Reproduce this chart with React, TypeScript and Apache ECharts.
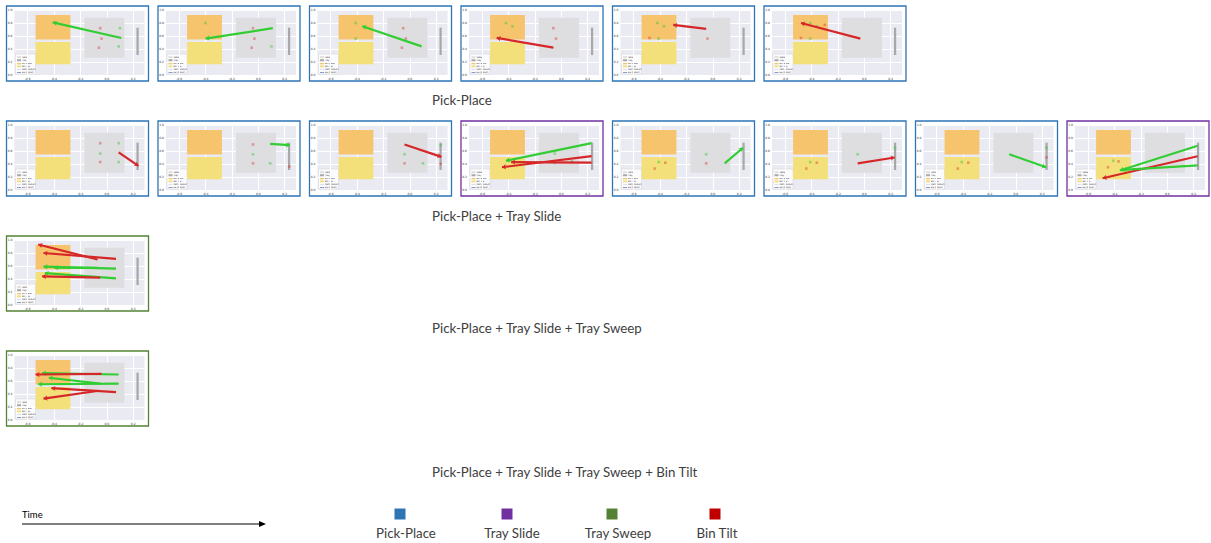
import React, { useEffect, useRef } from "react";
import * as echarts from "echarts";

const W = 1211;
const H = 543;

// axes
const xTicks = [-0.6, -0.4, -0.2, 0, 0.2];
const xRange = [-0.7, 0.286];
const yRange = [0, 1];
const yStep = 0.2;

// workspace zones (data coords)
const zoneNames = ["Bin Base", "Bin Top", "Table", "Tray"];
const zoneX = [[-0.54, -0.276], [-0.54, -0.276], [-0.17, 0.134], [0.225, 0.242]];
const zoneY = [[0.545, 0.922], [0.165, 0.508], [0.267, 0.882], [0.308, 0.728]];

const rowTitles = [
  "Pick-Place",
  "Pick-Place + Tray Slide",
  "Pick-Place + Tray Slide + Tray Sweep",
  "Pick-Place + Tray Slide + Tray Sweep + Bin Tilt",
];
const primitiveNames = ["Pick-Place", "Tray Slide", "Tray Sweep", "Bin Tilt"];
const panelLegendNames = ["Table", "Tray", "Bin Base", "Bin Top", "Path (Robot)", "EE (Robot)"];

// panels: red points, green points, arrows [tailX, tailY, headX, headY, colour]
const r1p1 = { red: [[-0.05, 0.72], [-0.04, 0.56], [-0.06, 0.42]], green: [[0.10, 0.72], [0.09, 0.44]], arrows: [[0.11, 0.57, -0.41, 0.81, "g"]] };
const r1p2 = { red: [[-0.04, 0.72], [-0.03, 0.56], [-0.05, 0.42]], green: [[-0.40, 0.80], [0.10, 0.44]], arrows: [[0.11, 0.72, -0.40, 0.56, "g"]] };
const r1p3 = { red: [[-0.05, 0.72], [-0.03, 0.56], [-0.06, 0.42]], green: [[-0.41, 0.80], [-0.41, 0.56]], arrows: [[0.09, 0.44, -0.36, 0.75, "g"]] };
const r1p4 = { red: [[-0.06, 0.72], [-0.04, 0.56]], green: [[-0.42, 0.80], [-0.37, 0.75]], arrows: [[-0.06, 0.42, -0.49, 0.57, "r"]] };
const r1p5 = { red: [[-0.48, 0.57], [-0.04, 0.56]], green: [[-0.42, 0.80], [-0.37, 0.75], [-0.41, 0.56]], arrows: [[-0.05, 0.71, -0.30, 0.77, "r"]] };
const r1p6 = { red: [[-0.48, 0.57], [-0.30, 0.77]], green: [[-0.41, 0.80], [-0.36, 0.75], [-0.41, 0.56]], arrows: [[-0.03, 0.56, -0.48, 0.80, "r"]] };

const r2p1 = { red: [[-0.05, 0.72], [-0.05, 0.43]], green: [[0.09, 0.72], [-0.05, 0.56], [0.09, 0.43]], arrows: [[0.09, 0.58, 0.24, 0.37, "r"]] };
const r2p2 = { red: [[-0.04, 0.70], [-0.04, 0.41], [0.235, 0.36]], green: [[-0.04, 0.55], [0.09, 0.41]], arrows: [[0.09, 0.71, 0.24, 0.69, "g"]] };
const r2p3 = { red: [[-0.04, 0.41], [0.235, 0.40]], green: [[-0.04, 0.55], [0.10, 0.41], [0.235, 0.69]], arrows: [[-0.04, 0.70, 0.24, 0.51, "r"]] };
const r2p4 = { red: [[-0.05, 0.42], [0.08, 0.43]], green: [[-0.05, 0.56], [0.08, 0.44]], arrows: [[0.23, 0.72, -0.42, 0.45, "g"], [0.23, 0.52, -0.45, 0.35, "r"], [0.23, 0.42, -0.38, 0.43, "r"]] };
const r2p5 = { red: [[-0.36, 0.42], [-0.44, 0.33], [-0.05, 0.41]], green: [[-0.05, 0.55], [-0.41, 0.43]], arrows: [[0.09, 0.41, 0.23, 0.65, "g"]] };
const r2p6 = { red: [[-0.36, 0.42], [-0.44, 0.33]], green: [[-0.05, 0.55], [-0.41, 0.43], [0.233, 0.65]], arrows: [[-0.05, 0.41, 0.23, 0.50, "r"]] };
const r2p7 = { red: [[-0.36, 0.42], [-0.44, 0.33], [0.233, 0.50]], green: [[-0.41, 0.43], [0.233, 0.65]], arrows: [[-0.05, 0.55, 0.23, 0.35, "g"]] };
const r2p8 = { red: [[-0.45, 0.35], [-0.37, 0.44]], green: [[-0.41, 0.45]], arrows: [[0.23, 0.52, -0.49, 0.18, "r"], [0.23, 0.68, -0.36, 0.30, "g"], [0.23, 0.38, -0.34, 0.31, "g"]] };

const r3p1 = {
  red: [], green: [],
  arrows: [
    [-0.07, 0.70, -0.52, 0.93, "r"],
    [0.07, 0.71, -0.48, 0.80, "r"],
    [0.07, 0.56, -0.48, 0.59, "g"],
    [-0.07, 0.57, -0.40, 0.575, "g"],
    [0.07, 0.41, -0.47, 0.49, "g"],
    [-0.05, 0.42, -0.49, 0.44, "r"],
  ],
};
const r4p1 = {
  red: [], green: [],
  arrows: [
    [0.09, 0.70, -0.49, 0.72, "g"],
    [-0.04, 0.71, -0.54, 0.70, "r"],
    [-0.05, 0.56, -0.44, 0.65, "g"],
    [0.09, 0.56, -0.52, 0.55, "g"],
    [0.07, 0.43, -0.42, 0.49, "r"],
    [-0.06, 0.45, -0.48, 0.33, "r"],
  ],
};

// which primitive each panel ends with: 0 pick-place, 1 tray slide, 2 tray sweep
const layout = [
  { p: r1p1, row: 0, col: 0, kind: 0 },
  { p: r1p2, row: 0, col: 1, kind: 0 },
  { p: r1p3, row: 0, col: 2, kind: 0 },
  { p: r1p4, row: 0, col: 3, kind: 0 },
  { p: r1p5, row: 0, col: 4, kind: 0 },
  { p: r1p6, row: 0, col: 5, kind: 0 },
  { p: r2p1, row: 1, col: 0, kind: 0 },
  { p: r2p2, row: 1, col: 1, kind: 0 },
  { p: r2p3, row: 1, col: 2, kind: 0 },
  { p: r2p4, row: 1, col: 3, kind: 1 },
  { p: r2p5, row: 1, col: 4, kind: 0 },
  { p: r2p6, row: 1, col: 5, kind: 0 },
  { p: r2p7, row: 1, col: 6, kind: 0 },
  { p: r2p8, row: 1, col: 7, kind: 1 },
  { p: r3p1, row: 2, col: 0, kind: 2 },
  { p: r4p1, row: 3, col: 0, kind: 2 },
];

const primColors = ["#2E75B6", "#7030A0", "#548235", "#C00000"];
const zoneColors = ["#F6C46D", "#F3E07A", "#DEDEE0", "#A8A8A8"];
const RED = "#D62728";
const GREEN = "#32CD32";

const rowTop = [6, 121, 236, 351];
const titleY = [100, 216, 328, 472];
const colLeft = (c: number) => 6.5 + 151.5 * c;
const PW = 142;
const PH = 75;

function buildOption() {
  const grids: any[] = [];
  const xAxes: any[] = [];
  const yAxes: any[] = [];
  const series: any[] = [];
  const graphics: any[] = [];
  const font = "Lato, 'Open Sans', sans-serif";

  layout.forEach((it, i) => {
    const L = colLeft(it.col);
    const T = rowTop[it.row];
    grids.push({
      left: L + 8, top: T + 4, width: 130, height: 65,
      show: true, backgroundColor: "#EAEAF2", borderWidth: 0,
      containLabel: false, outerBoundsMode: "none",
    });
    xAxes.push({
      type: "value", gridIndex: i, min: xRange[0], max: xRange[1],
      axisLine: { show: false },
      axisTick: { show: false, customValues: xTicks },
      axisLabel: {
        customValues: xTicks, fontSize: 3, color: "#333", margin: 2,
        hideOverlap: false, fontFamily: "DejaVu Sans",
        formatter: (v: number) => v.toFixed(1),
      },
      splitLine: { show: true, lineStyle: { color: "#FFFFFF", width: 1 } },
    });
    yAxes.push({
      type: "value", gridIndex: i, min: yRange[0], max: yRange[1], interval: yStep,
      axisLine: { show: false },
      axisTick: { show: false },
      axisLabel: {
        fontSize: 3, color: "#333", margin: 2, hideOverlap: false, fontFamily: "DejaVu Sans",
        formatter: (v: number) => v.toFixed(1),
      },
      splitLine: { show: true, lineStyle: { color: "#FFFFFF", width: 1 } },
    });
    series.push({
      type: "scatter", xAxisIndex: i, yAxisIndex: i, data: [], silent: true, z: 1,
      markArea: {
        silent: true,
        label: { show: false },
        data: zoneNames.map((n, k) => [
          { name: n, xAxis: zoneX[k][0], yAxis: zoneY[k][0], itemStyle: { color: zoneColors[k], opacity: 1 } },
          { xAxis: zoneX[k][1], yAxis: zoneY[k][1] },
        ]),
      },
    });
    series.push({
      type: "scatter", xAxisIndex: i, yAxisIndex: i, silent: true, z: 3,
      symbol: "rect", symbolSize: 2.6,
      itemStyle: { color: "rgba(214,39,40,0.5)" },
      data: it.p.red,
    });
    series.push({
      type: "scatter", xAxisIndex: i, yAxisIndex: i, silent: true, z: 3,
      symbol: "rect", symbolSize: 2.6,
      itemStyle: { color: "rgba(44,200,44,0.55)" },
      data: it.p.green,
    });
    series.push({
      type: "lines", coordinateSystem: "cartesian2d", xAxisIndex: i, yAxisIndex: i,
      silent: true, z: 4,
      symbol: ["none", "arrow"], symbolSize: 4,
      lineStyle: { width: 2.2, opacity: 1 },
      data: it.p.arrows.map((a: any) => ({
        coords: [[a[0], a[1]], [a[2], a[3]]],
        lineStyle: { color: a[4] === "r" ? RED : GREEN },
      })),
    });

    // panel frame
    graphics.push({
      type: "rect", z: 10, silent: true,
      shape: { x: L, y: T, width: PW, height: PH },
      style: { fill: "none", stroke: primColors[it.kind], lineWidth: 1.3 },
    });
    // in-plot legend
    const lx = L + 9;
    const ly = T + 48;
    const legChildren: any[] = [
      {
        type: "rect", shape: { x: lx, y: ly, width: 20, height: 20 },
        style: { fill: "rgba(255,255,255,0.8)", stroke: "#CCCCCC", lineWidth: 0.4 },
      },
    ];
    const swatch = ["#E0E0E0", "#A8A8A8", "#F6C46D", "#F3E07A", "#C8D6EE", "#4A78C0"];
    panelLegendNames.forEach((n, k) => {
      const yy = ly + 2.2 + k * 3.05;
      const isLine = k >= 4;
      legChildren.push({
        type: "rect",
        shape: { x: lx + 1.5, y: isLine ? yy + 0.6 : yy, width: 4, height: isLine ? 0.7 : 2 },
        style: { fill: swatch[k] },
      });
      legChildren.push({
        type: "text",
        style: { text: n, x: lx + 6.5, y: yy + 1, fill: "#333", fontSize: 2.2, fontFamily: "DejaVu Sans", verticalAlign: "middle", textVerticalAlign: "middle" },
      });
    });
    graphics.push({ type: "group", z: 9, silent: true, children: legChildren });
  });

  // row titles
  rowTitles.forEach((t, r) => {
    graphics.push({
      type: "text", silent: true,
      style: { text: t, x: 432, y: titleY[r], fill: "#404040", font: `13.3px ${font}`, verticalAlign: "middle", textVerticalAlign: "middle" },
    });
  });

  // time arrow
  graphics.push({
    type: "text", silent: true,
    style: { text: "Time", x: 22, y: 514, fill: "#000", font: `9.5px ${font}`, verticalAlign: "middle", textVerticalAlign: "middle" },
  });
  graphics.push({
    type: "line", silent: true,
    shape: { x1: 22, y1: 524, x2: 260, y2: 524 },
    style: { stroke: "#000", lineWidth: 1.2 },
  });
  graphics.push({
    type: "polygon", silent: true,
    shape: { points: [[259, 521], [266, 524], [259, 527]] },
    style: { fill: "#000" },
  });

  // primitive legend
  const legCx = [400, 507, 612, 715];
  const labCx = [406, 512, 618, 717];
  primitiveNames.forEach((n, k) => {
    graphics.push({
      type: "rect", silent: true,
      shape: { x: legCx[k] - 5.5, y: 508.5, width: 11, height: 11 },
      style: { fill: primColors[k] },
    });
    graphics.push({
      type: "text", silent: true,
      style: { text: n, x: labCx[k], y: 533, fill: "#404040", font: `13.3px ${font}`, align: "center", textAlign: "center", verticalAlign: "middle", textVerticalAlign: "middle" },
    });
  });

  return {
    animation: false,
    backgroundColor: "#FFFFFF",
    grid: grids,
    xAxis: xAxes,
    yAxis: yAxes,
    series,
    graphic: graphics,
  };
}

export default function App() {
  const ref = useRef<HTMLDivElement>(null);
  useEffect(() => {
    if (!ref.current) return;
    const chart = echarts.init(ref.current, undefined, { renderer: "svg" });
    chart.setOption(buildOption() as any);
    return () => chart.dispose();
  }, []);
  return (
    <div
      ref={ref}
      style={{ position: "fixed", left: 0, top: 0, width: W, height: H, background: "#fff" }}
    />
  );
}
